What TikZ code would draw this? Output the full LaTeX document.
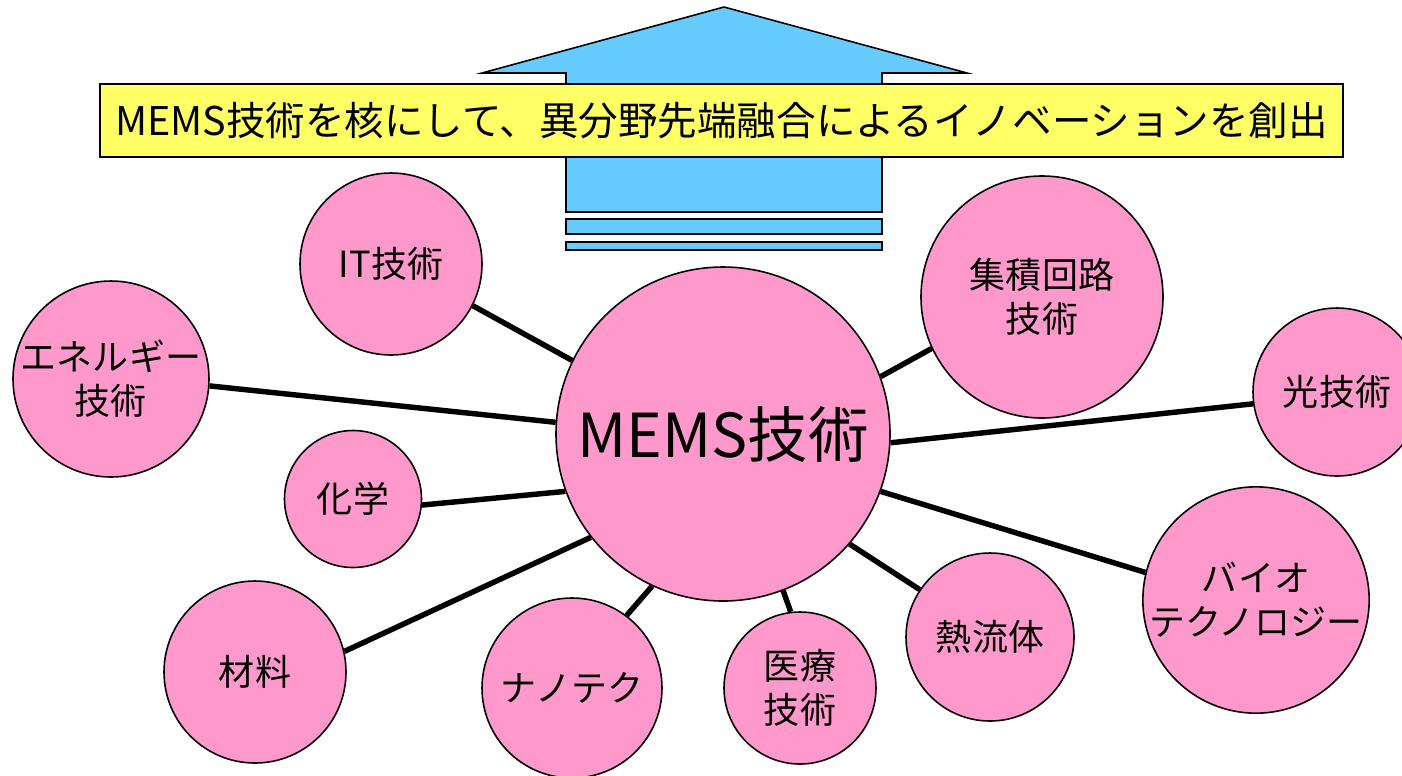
\documentclass[tikz,border=0pt]{standalone}
\usepackage{fontspec}
\setmainfont{Noto Sans CJK JP}
\usetikzlibrary{backgrounds}
\definecolor{pinkfill}{HTML}{FF99CC}
\definecolor{bluefill}{HTML}{66CCFF}
\definecolor{yellowfill}{HTML}{FFFF66}
\begin{document}
\begin{tikzpicture}[x=0.02cm,y=-0.02cm,
  bubble/.style={circle,draw=black,line width=0.9pt,fill=pinkfill,inner sep=0pt,align=center,
    font=\fontsize{20.5}{25}\selectfont},
  link/.style={line width=3.1pt,black},
  shapeline/.style={draw=black,line width=0.9pt,fill=bluefill}]
\useasboundingbox (0,0) rectangle (1402,775);
% big arrow
\path[shapeline] (724,7) -- (967,73) -- (882,73) -- (882,212) -- (566,212) -- (566,73) -- (482,73) -- cycle;
\path[shapeline] (566,219) rectangle (882,234);
\path[shapeline] (566,242) rectangle (882,250);
% banner
\node[draw=black,line width=0.9pt,fill=yellowfill,minimum width=1243*0.02cm,minimum height=73*0.02cm,inner sep=0pt,
  font=\fontsize{22.5}{27}\selectfont] (banner) at (721.5,120.5) {MEMS技術を核にして、異分野先端融合によるイノベーションを創出};
% bubbles
\node[bubble,minimum size=334*0.02cm,font=\fontsize{34.5}{41}\selectfont] (mems) at (723,434) {\raisebox{-0.12em}{MEMS技術}};
\node[bubble,minimum size=182*0.02cm] (it) at (391,264) {\raisebox{-0.1em}{IT技術}};
\node[bubble,minimum size=196*0.02cm] (ene) at (111,379) {エネルギー\\技術};
\node[bubble,minimum size=137*0.02cm] (kag) at (353,499) {化学};
\node[bubble,minimum size=182*0.02cm] (zai) at (255,672) {\raisebox{-0.15em}{材料}};
\node[bubble,minimum size=180*0.02cm] (nano) at (572,688) {ナノテク};
\node[bubble,minimum size=152*0.02cm] (iryo) at (800,688) {医療\\技術};
\node[bubble,minimum size=168*0.02cm] (netsu) at (990,637) {熱流体};
\node[bubble,minimum size=212*0.02cm] (bio) at (1256,600) {バイオ\\テクノロジー};
\node[bubble,minimum size=168*0.02cm] (hikari) at (1337,392) {\raisebox{-0.1em}{光技術}};
\node[bubble,minimum size=242*0.02cm] (shu) at (1042,297) {集積回路\\技術};
% connectors
\begin{scope}[on background layer]
\draw[link] (mems.154.2) -- (it.-27.4);
\draw[link] (mems.176.9) -- (ene.-4.6);
\draw[link] (mems.200.8) -- (kag.-5.0);
\draw[link] (mems.218.7) -- (zai.13.7);
\draw[link] (mems.245.1) -- (nano.53.7);
\draw[link] (mems.-69.3) -- (iryo.97.6);
\draw[link] (mems.-41.1) -- (netsu.146.9);
\draw[link] (mems.-20.3) -- (bio.166.2);
\draw[link] (mems.-3.1) -- (hikari.188.8);
\draw[link] (mems.20.6) -- (shu.205.7);
\end{scope}
\end{tikzpicture}
\end{document}
